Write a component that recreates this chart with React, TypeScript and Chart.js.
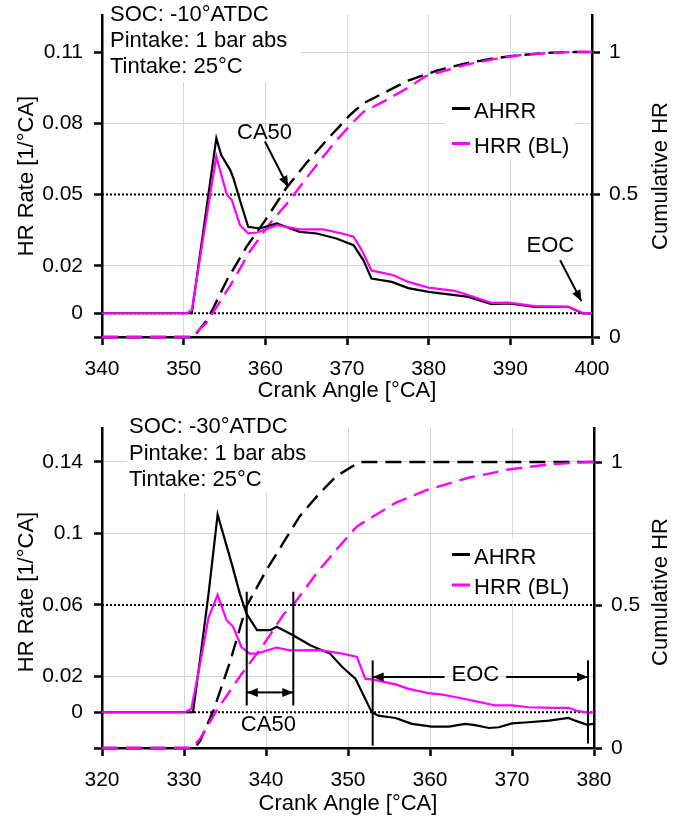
import React, { useEffect, useRef } from "react";
import { Chart, registerables } from "chart.js";

Chart.register(...registerables);

const FONT = "'Liberation Sans', Arial, Helvetica, sans-serif";
const GRID = "#d6d6d6";
const MAGENTA = "#ff00ff";

// ---------- Top panel (SOC -10° ATDC) ----------
const topAhrrCA = [340, 351, 352.5, 354, 354.6, 355.7, 356.1, 357, 357.9, 359.3, 361.4, 364.2, 366.3, 368.7, 370.8, 372, 373, 375.5, 377.5, 380, 383.2, 384.9, 387.7, 389.8, 393, 397.1, 398.8, 400];
const topAhrrRate = [0, 0, 0.037, 0.0737, 0.0666, 0.0603, 0.0568, 0.0463, 0.0364, 0.0357, 0.0378, 0.0343, 0.0336, 0.0315, 0.0287, 0.0224, 0.0146, 0.0132, 0.0106, 0.009, 0.0076, 0.0069, 0.0038, 0.0041, 0.0027, 0.0027, 0, -0.0002];
const topHrrCA = [340, 350.4, 351, 352.5, 354, 355.3, 355.9, 356.9, 357.9, 359, 361.4, 364.2, 367.1, 369.4, 370.8, 371.8, 373, 374.4, 375.7, 377.5, 380, 383.2, 384.9, 387.7, 389.8, 393, 397.1, 398.8, 400];
const topHrrRate = [0, 0, 0.0013, 0.034, 0.066, 0.0498, 0.0477, 0.0371, 0.0336, 0.034, 0.0371, 0.0353, 0.0353, 0.0336, 0.0322, 0.0266, 0.018, 0.017, 0.016, 0.0132, 0.0108, 0.0094, 0.0076, 0.0044, 0.0045, 0.003, 0.0027, 0.0002, 0];
const topCumAhrrCA = [340, 351.2, 353, 355.3, 357.7, 360, 362.5, 365, 367.9, 370.4, 372, 374.4, 377.5, 381, 384.5, 388, 391.4, 395, 398, 400];
const topCumAhrr = [0, 0, 0.065, 0.2, 0.317, 0.41, 0.52, 0.61, 0.703, 0.78, 0.82, 0.855, 0.9, 0.935, 0.96, 0.978, 0.99, 0.998, 1.0, 1.0];
const topCumHrrCA = [340, 351, 352.8, 355.7, 358.1, 360.6, 363, 365.5, 368.7, 370.8, 372, 374.4, 377.5, 379.6, 384.5, 388, 391.4, 395, 397.5, 400];
const topCumHrr = [0, 0, 0.05, 0.18, 0.3, 0.4, 0.48, 0.575, 0.69, 0.755, 0.79, 0.825, 0.875, 0.915, 0.955, 0.975, 0.99, 0.997, 1.0, 1.0];
const topXTicks = [340, 350, 360, 370, 380, 390, 400];
const topRateTicks = [0, 0.02, 0.05, 0.08, 0.11];
const topCumTicks = [0, 0.5, 1];
const topRefLines = [0, 0.05];
const topInfo = ["SOC: -10°ATDC", "Pintake: 1 bar abs", "Tintake: 25°C"];

// ---------- Bottom panel (SOC -30° ATDC) ----------
const botAhrrCA = [320, 331.1, 332, 333, 334.1, 335.8, 336.8, 337.6, 338.9, 340.5, 341.3, 343.3, 345.4, 347.8, 349.3, 350.9, 352.9, 353.7, 355.8, 357.8, 360.2, 362.3, 364.3, 365.5, 367.2, 368.4, 370, 372, 374.5, 376.9, 377.7, 379.1, 380];
const botAhrrRate = [0, 0, 0.031, 0.0665, 0.1105, 0.0834, 0.0665, 0.0553, 0.0459, 0.0459, 0.0478, 0.0431, 0.0375, 0.0328, 0.0253, 0.0188, 0, -0.0019, -0.0032, -0.0065, -0.008, -0.008, -0.0065, -0.0072, -0.0088, -0.0084, -0.0062, -0.0056, -0.0047, -0.0032, -0.0047, -0.0069, -0.0065];
const botHrrCA = [320, 330.1, 330.9, 332, 333, 334.1, 335.2, 336, 337, 338, 338.9, 341.3, 342.9, 346.6, 349.3, 351.1, 352.1, 353.4, 355.8, 357.4, 359.8, 361.5, 363.5, 365.5, 368, 370, 372, 375.3, 376.9, 378.1, 379.3, 380];
const botHrrRate = [0, 0, 0.002, 0.028, 0.053, 0.0656, 0.0515, 0.0478, 0.0365, 0.0328, 0.0328, 0.0362, 0.0346, 0.0347, 0.0328, 0.0309, 0.0188, 0.018, 0.0156, 0.0131, 0.0107, 0.0099, 0.0081, 0.0062, 0.0038, 0.0038, 0.0028, 0.0025, 0.0025, 0.0006, -0.0003, 0];
const botCumAhrrCA = [320, 331.3, 332, 333.6, 335.6, 337.6, 340.1, 342.1, 344.1, 346.6, 348.6, 350.6, 351.5, 380];
const botCumAhrr = [0, 0, 0.027, 0.132, 0.3, 0.495, 0.624, 0.717, 0.81, 0.893, 0.951, 0.986, 1.0, 1.0];
const botCumHrrCA = [320, 331, 332, 334, 336.8, 340.1, 342.1, 343.3, 346.2, 348.6, 351.1, 352.5, 355.8, 359.8, 364.7, 369.6, 374.5, 379.3, 380];
const botCumHrr = [0, 0, 0.034, 0.132, 0.249, 0.378, 0.466, 0.5, 0.612, 0.694, 0.775, 0.8, 0.857, 0.904, 0.945, 0.974, 0.992, 1.0, 1.0];
const botXTicks = [320, 330, 340, 350, 360, 370, 380];
const botRateTicks = [0, 0.02, 0.06, 0.1, 0.14];
const botCumTicks = [0, 0.5, 1];
const botRefLines = [0, 0.06];
const botInfo = ["SOC: -30°ATDC", "Pintake: 1 bar abs", "Tintake: 25°C"];

const seriesNames = ["AHRR", "HRR (BL)"];
const titleX = "Crank Angle [°CA]";
const titleY = "HR Rate [1/°CA]";
const titleY2 = "Cumulative HR";

type Fn = (v: number) => number;

function arrowHead(ctx: CanvasRenderingContext2D, x1: number, y1: number, x2: number, y2: number) {
  const len = 11, half = 4.5;
  const a = Math.atan2(y2 - y1, x2 - x1);
  const c = Math.cos(a), s = Math.sin(a);
  ctx.beginPath();
  ctx.moveTo(x2, y2);
  ctx.lineTo(x2 - len * c + half * s, y2 - len * s - half * c);
  ctx.lineTo(x2 - len * c - half * s, y2 - len * s + half * c);
  ctx.closePath();
  ctx.fill();
}
function arrow(ctx: CanvasRenderingContext2D, x1: number, y1: number, x2: number, y2: number) {
  ctx.beginPath();
  ctx.moveTo(x1, y1);
  ctx.lineTo(x2, y2);
  ctx.stroke();
  arrowHead(ctx, x1, y1, x2, y2);
}
function line(ctx: CanvasRenderingContext2D, x1: number, y1: number, x2: number, y2: number) {
  ctx.beginPath();
  ctx.moveTo(x1, y1);
  ctx.lineTo(x2, y2);
  ctx.stroke();
}

function topAnnotate(ctx: CanvasRenderingContext2D, X: Fn, Y: Fn) {
  ctx.textAlign = "center";
  ctx.fillText("CA50", X(359.9), Y(0.0732));
  arrow(ctx, X(359.95), Y(0.0723), X(362.8), Y(0.0532));
  ctx.fillText("EOC", X(394.9), Y(0.0256));
  arrow(ctx, X(396.1), Y(0.0223), X(398.7), Y(0.0051));
}

function botAnnotate(ctx: CanvasRenderingContext2D, X: Fn, Y: Fn) {
  // CA50 bracket
  const c1 = X(337.65), c2 = X(343.33);
  line(ctx, c1, Y(0.0674), c1, Y(0.0038));
  line(ctx, c2, Y(0.0674), c2, Y(0.0038));
  const ay = Y(0.0111);
  const mid = (c1 + c2) / 2;
  arrow(ctx, mid, ay, c1, ay);
  arrow(ctx, mid, ay, c2, ay);
  ctx.textAlign = "center";
  ctx.fillText("CA50", X(340.29), Y(-0.0107));
  // EOC bracket
  const e1 = X(353.01), e2 = X(379.27);
  line(ctx, e1, Y(0.029), e1, Y(-0.0187));
  line(ctx, e2, Y(0.029), e2, Y(-0.0175));
  const tx = X(365.53);
  ctx.fillText("EOC", tx, Y(0.0172));
  const w = ctx.measureText("EOC").width;
  const ey = Y(0.0197);
  arrow(ctx, tx - w / 2 - 7, ey, e1, ey);
  arrow(ctx, tx + w / 2 + 7, ey, e2, ey);
}

interface Panel {
  h: number; padTop: number; xAxisH: number; rightW: number; xTitleDy: number; yTitleShift: number;
  xMin: number; xMax: number; xTicks: number[];
  yMin: number; yMax: number; yTicks: number[]; refLines: number[];
  y2Max: number; y2Ticks: number[];
  ahrr: number[][]; hrr: number[][]; cumAhrr: number[][]; cumHrr: number[][];
  info: string[]; infoX: number; infoY: number; infoDy: number; infoBox: number[];
  legendBox: number[]; legendLineY: number[];
  annotate: (ctx: CanvasRenderingContext2D, X: Fn, Y: Fn) => void;
}

const topPanel: Panel = {
  h: 408, padTop: 15, xAxisH: 71, rightW: 92, xTitleDy: 60, yTitleShift: 0,
  xMin: 340, xMax: 400, xTicks: topXTicks,
  yMin: -0.01, yMax: 0.1256, yTicks: topRateTicks, refLines: topRefLines,
  y2Max: 1.13, y2Ticks: topCumTicks,
  ahrr: [topAhrrCA, topAhrrRate], hrr: [topHrrCA, topHrrRate],
  cumAhrr: [topCumAhrrCA, topCumAhrr], cumHrr: [topCumHrrCA, topCumHrr],
  info: topInfo, infoX: 110, infoY: 21, infoDy: 26, infoBox: [104.5, 0, 196, 82],
  legendBox: [445, 97, 130, 63], legendLineY: [108.5, 143.5],
  annotate: topAnnotate,
};

const botPanel: Panel = {
  h: 409, padTop: 20, xAxisH: 69, rightW: 90, xTitleDy: 62, yTitleShift: 4,
  xMin: 320, xMax: 380, xTicks: botXTicks,
  yMin: -0.02, yMax: 0.159, yTicks: botRateTicks, refLines: botRefLines,
  y2Max: 1.119, y2Ticks: botCumTicks,
  ahrr: [botAhrrCA, botAhrrRate], hrr: [botHrrCA, botHrrRate],
  cumAhrr: [botCumAhrrCA, botCumAhrr], cumHrr: [botCumHrrCA, botCumHrr],
  info: botInfo, infoX: 129, infoY: 25, infoDy: 26.5, infoBox: [126, 0, 182, 85],
  legendBox: [445, 130, 130, 62], legendLineY: [146.5, 177],
  annotate: botAnnotate,
};

const pts = (s: number[][]) => s[0].map((x, i) => ({ x, y: s[1][i] }));
const fmt = (v: number) => String(Math.round(v * 1000) / 1000);

function buildConfig(p: Panel): any {
  const tickFont = { family: FONT, size: 21 };
  const refSets = p.refLines.map((lv) => ({
    label: "ref",
    data: [{ x: p.xMin, y: lv }, { x: p.xMax, y: lv }],
    yAxisID: "y",
    borderColor: "#000",
    borderWidth: 2,
    borderDash: [2, 2],
    order: 10,
  }));
  const plugin = {
    id: "extras",
    beforeDatasetsDraw(chart: any) {
      const ctx = chart.ctx as CanvasRenderingContext2D;
      ctx.save();
      ctx.fillStyle = "#fff";
      for (const r of [p.infoBox, p.legendBox]) ctx.fillRect(r[0], r[1], r[2], r[3]);
      ctx.restore();
    },
    afterDraw(chart: any) {
      const ctx = chart.ctx as CanvasRenderingContext2D;
      const a = chart.chartArea;
      const X: Fn = (v) => chart.scales.x.getPixelForValue(v);
      const Y: Fn = (v) => chart.scales.y.getPixelForValue(v);
      ctx.save();
      ctx.fillStyle = "#000";
      ctx.strokeStyle = "#000";
      ctx.lineWidth = 2;
      ctx.font = `22px ${FONT}`;
      ctx.textBaseline = "alphabetic";
      ctx.textAlign = "left";
      p.info.forEach((t, i) => ctx.fillText(t, p.infoX, p.infoY + i * p.infoDy));
      // legend
      const lx = p.legendBox[0] + 7;
      [["#000", seriesNames[0]], [MAGENTA, seriesNames[1]]].forEach(([col, name], i) => {
        const yy = p.legendLineY[i];
        ctx.save();
        ctx.strokeStyle = col;
        ctx.lineWidth = 3;
        line(ctx, lx, yy, lx + 18, yy);
        ctx.restore();
        ctx.fillText(name, lx + 22, yy + 9);
      });
      // axis titles
      ctx.textAlign = "center";
      ctx.fillText(titleX, (a.left + a.right) / 2, a.bottom + p.xTitleDy);
      const cy = (a.top + a.bottom) / 2 + p.yTitleShift;
      ctx.save(); ctx.translate(33, cy); ctx.rotate(-Math.PI / 2); ctx.fillText(titleY, 0, 0); ctx.restore();
      ctx.save(); ctx.translate(667, cy); ctx.rotate(-Math.PI / 2); ctx.fillText(titleY2, 0, 0); ctx.restore();
      p.annotate(ctx, X, Y);
      ctx.restore();
    },
  };
  return {
    type: "line",
    data: {
      datasets: [
        { label: seriesNames[0], data: pts(p.ahrr), yAxisID: "y", borderColor: "#000", borderWidth: 2.2, order: 2 },
        { label: seriesNames[1], data: pts(p.hrr), yAxisID: "y", borderColor: MAGENTA, borderWidth: 2.2, order: 1 },
        { label: seriesNames[0] + " cum", data: pts(p.cumAhrr), yAxisID: "y2", borderColor: "#000", borderWidth: 2.4, borderDash: [16, 8], order: 4 },
        { label: seriesNames[1] + " cum", data: pts(p.cumHrr), yAxisID: "y2", borderColor: MAGENTA, borderWidth: 2.4, borderDash: [16, 8], order: 3 },
        ...refSets,
      ],
    },
    options: {
      responsive: false,
      animation: false,
      devicePixelRatio: 1,
      layout: { autoPadding: false, padding: { top: p.padTop, left: 0, right: 0, bottom: 0 } },
      plugins: { legend: { display: false }, tooltip: { enabled: false } },
      elements: { point: { radius: 0 }, line: { tension: 0 } },
      datasets: { line: { clip: false, pointRadius: 0 } },
      scales: {
        x: {
          type: "linear", position: "bottom", min: p.xMin, max: p.xMax,
          afterBuildTicks: (s: any) => { s.ticks = p.xTicks.map((v) => ({ value: v })); },
          ticks: { font: tickFont, color: "#000", padding: 12, maxRotation: 0, autoSkip: false, callback: (v: any) => String(v) },
          grid: {
            color: (c: any) => (c.tick && (c.tick.value === p.xMin || c.tick.value === p.xMax) ? "rgba(0,0,0,0)" : GRID),
            lineWidth: 1, tickColor: "#000", tickLength: 8, tickWidth: 2.5,
          },
          border: { color: "#000", width: 2.5 },
          afterFit: (s: any) => { s.height = p.xAxisH; s.paddingLeft = 0; s.paddingRight = 0; },
        },
        y: {
          type: "linear", position: "left", min: p.yMin, max: p.yMax,
          afterBuildTicks: (s: any) => { s.ticks = [p.yMin, ...p.yTicks].map((v) => ({ value: v })); },
          ticks: { font: tickFont, color: "#000", padding: 11, autoSkip: false, callback: (v: any) => (v === p.yMin ? "" : fmt(v)) },
          grid: {
            color: (c: any) => (c.tick && (c.tick.value === p.yMin || p.refLines.includes(c.tick.value)) ? "rgba(0,0,0,0)" : GRID),
            lineWidth: 1, tickColor: "#000", tickLength: 8, tickWidth: 2.5,
          },
          border: { color: "#000", width: 2.5 },
          afterFit: (s: any) => { s.width = 102; s.paddingTop = 0; s.paddingBottom = 0; },
        },
        y2: {
          type: "linear", position: "right", min: 0, max: p.y2Max,
          afterBuildTicks: (s: any) => { s.ticks = p.y2Ticks.map((v) => ({ value: v })); },
          ticks: { font: tickFont, color: "#000", padding: 9, autoSkip: false, callback: (v: any) => fmt(v) },
          grid: { drawOnChartArea: false, tickColor: "#000", tickLength: 8, tickWidth: 2.5 },
          border: { color: "#000", width: 2.5 },
          afterFit: (s: any) => { s.width = p.rightW; s.paddingTop = 0; s.paddingBottom = 0; },
        },
      },
    },
    plugins: [plugin],
  };
}

function PanelChart({ p, top }: { p: Panel; top: number }) {
  const ref = useRef<HTMLCanvasElement>(null);
  useEffect(() => {
    const chart = new Chart(ref.current as HTMLCanvasElement, buildConfig(p));
    return () => chart.destroy();
  }, []);
  return (
    <canvas
      ref={ref}
      width={684}
      height={p.h}
      style={{ position: "absolute", left: 0, top, width: 684, height: p.h }}
    />
  );
}

export default function App() {
  return (
    <div style={{ position: "absolute", left: 0, top: 0, width: 684, height: 817, background: "#fff" }}>
      <PanelChart p={topPanel} top={0} />
      <PanelChart p={botPanel} top={408} />
    </div>
  );
}
